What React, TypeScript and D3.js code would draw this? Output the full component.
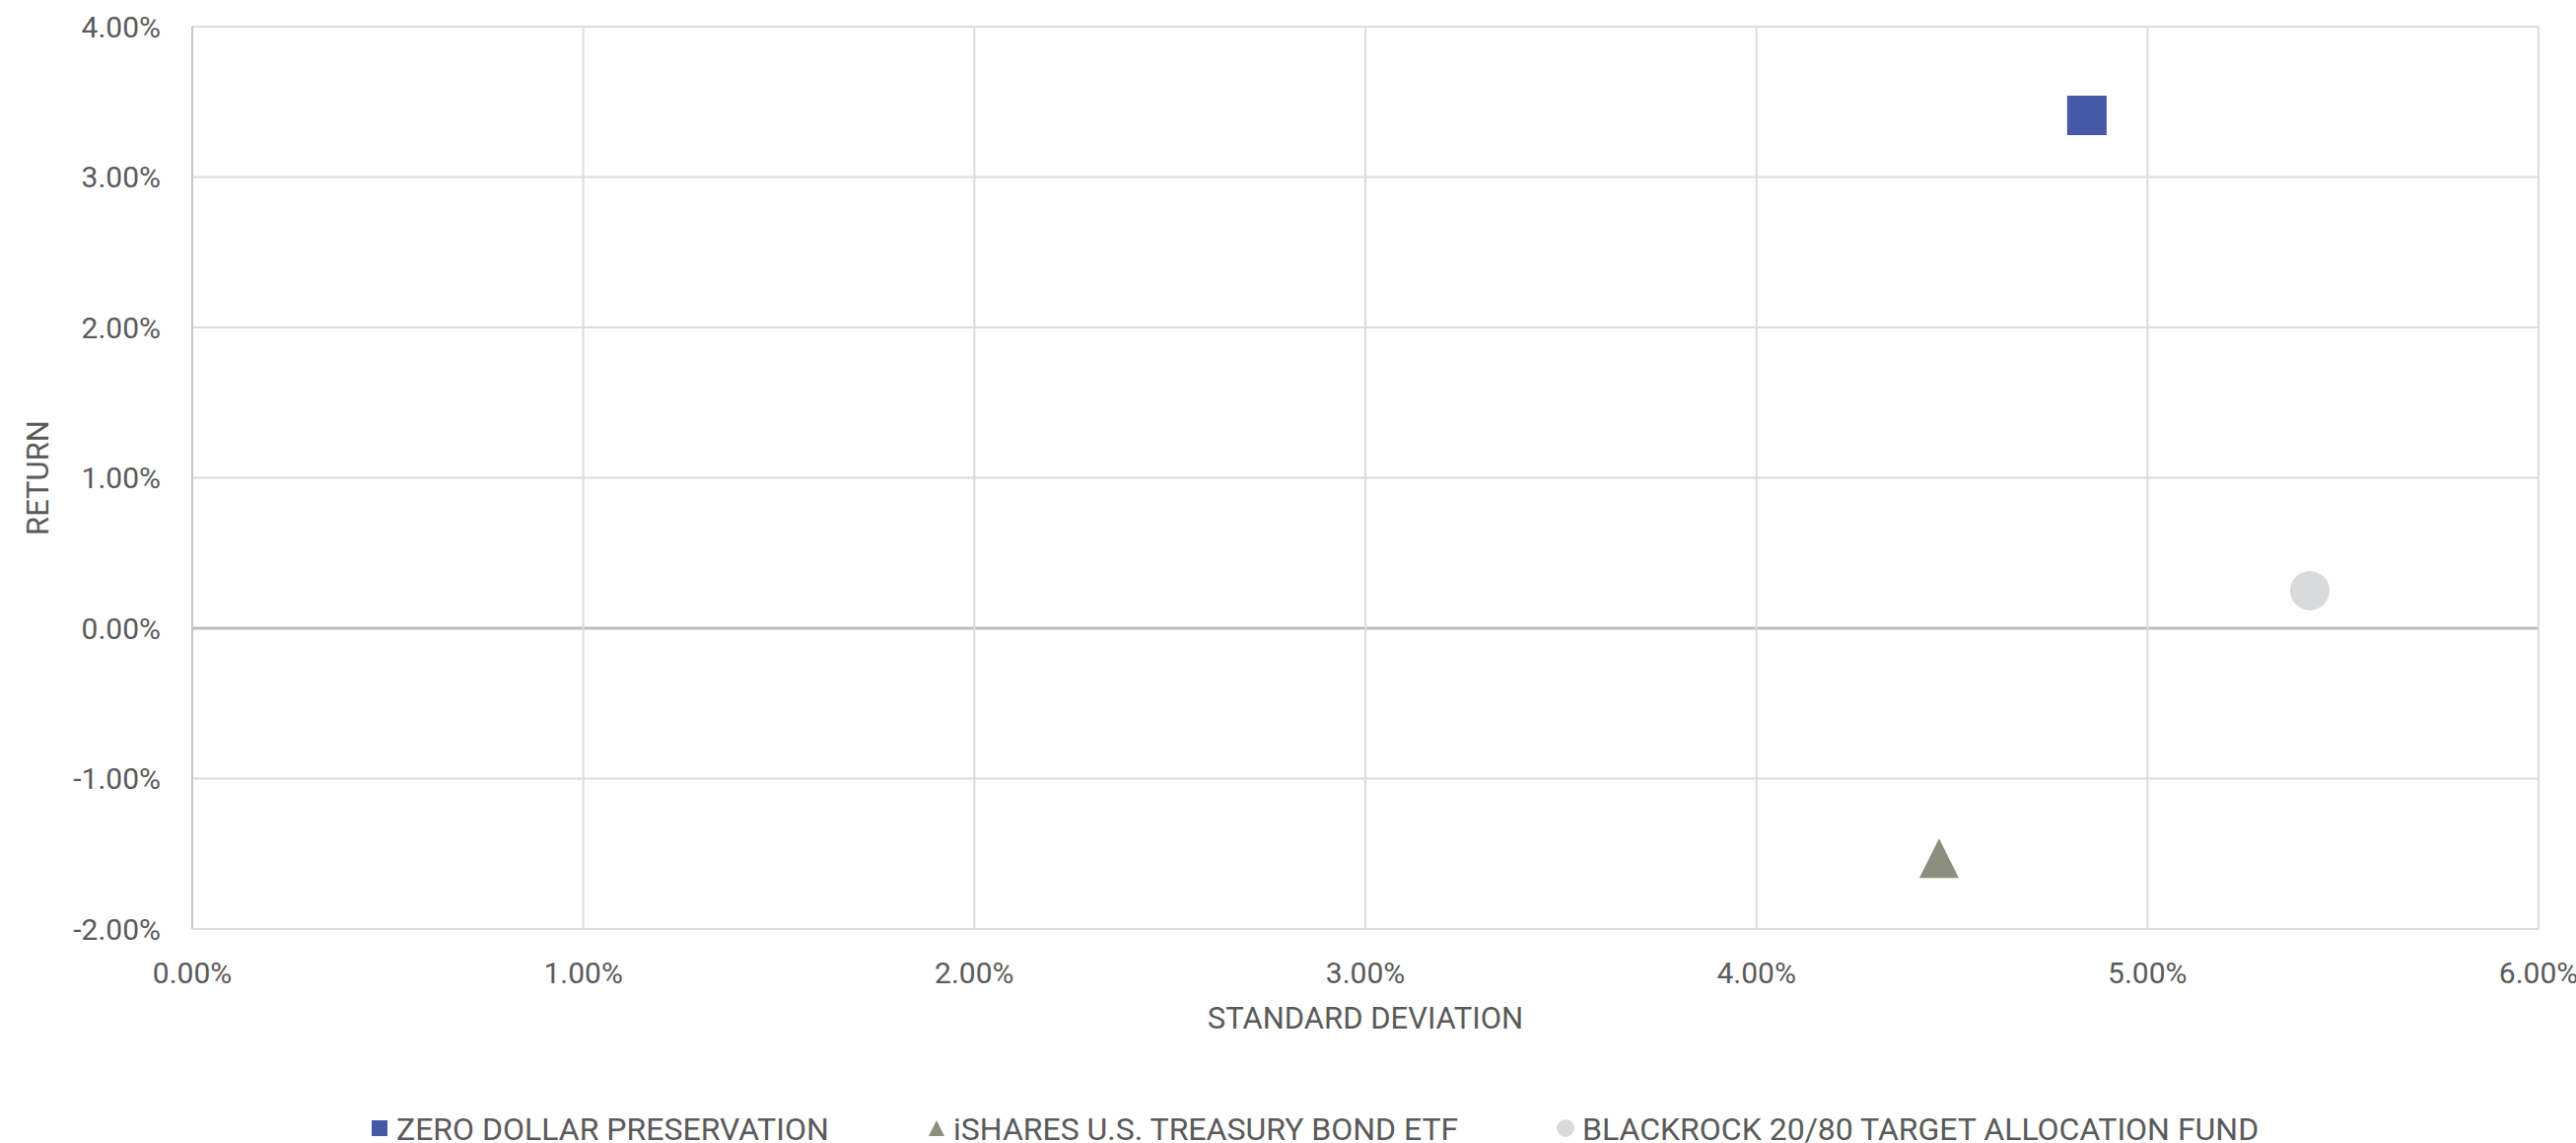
import * as d3 from "d3";

const seriesNames = ["ZERO DOLLAR PRESERVATION", "iSHARES U.S. TREASURY BOND ETF", "BLACKROCK 20/80 TARGET ALLOCATION FUND"];
const seriesColors = ["#4559a8", "#8c8e7e", "#d9dadc"];
const seriesShapes = ["square", "triangle", "circle"];
const stdDev = [4.845, 4.467, 5.415];
const returns = [3.41, -1.53, 0.25];

const xTicks = [0, 1, 2, 3, 4, 5, 6];
const yTicks = [-2, -1, 0, 1, 2, 3, 4];

const W = 2613;
const H = 1159;
const m = { left: 195, right: 38, top: 27, bottom: 217 };
const FONT = "Roboto, 'DejaVu Sans', sans-serif";
const TXT = "#5a5a5a";

function marker(shape: string, cx: number, cy: number, s: number) {
  const h = s / 2;
  if (shape === "square") return `M${cx - h},${cy - h}h${s}v${s}h${-s}Z`;
  if (shape === "triangle") return `M${cx},${cy - h}L${cx + h},${cy + h}L${cx - h},${cy + h}Z`;
  return `M${cx - h},${cy}a${h},${h} 0 1,0 ${s},0a${h},${h} 0 1,0 ${-s},0Z`;
}

export default function App() {
  const x = d3.scaleLinear().domain([0, 6]).range([m.left, W - m.right]);
  const y = d3.scaleLinear().domain([-2, 4]).range([H - m.bottom, m.top]);
  const fmt = (v: number) => v.toFixed(2) + "%";

  const legendX = [377, 942, 1580];
  const legendY = 1144;

  return (
    <svg width={W} height={H} style={{ position: "absolute", left: 0, top: 0, background: "#fff" }}>
      {/* grid */}
      {yTicks.map((t) => (
        <line key={"gy" + t} x1={x(0)} x2={x(6)} y1={y(t)} y2={y(t)}
          stroke={t === 0 ? "#bdbdbd" : "#dcdcdc"} strokeWidth={t === 0 ? 3 : 2} />
      ))}
      {xTicks.map((t) => (
        <line key={"gx" + t} x1={x(t)} x2={x(t)} y1={y(-2)} y2={y(4)}
          stroke={t === 0 ? "#c8c8c8" : "#dcdcdc"} strokeWidth={2} />
      ))}

      {/* tick labels */}
      {yTicks.map((t) => (
        <text key={"ly" + t} x={x(0) - 32} y={y(t)} dy="0.36em" textAnchor="end"
          fontFamily={FONT} fontSize={30} fill={TXT}>{fmt(t)}</text>
      ))}
      {xTicks.map((t) => (
        <text key={"lx" + t} x={x(t)} y={997} textAnchor="middle"
          fontFamily={FONT} fontSize={30} fill={TXT}>{fmt(t)}</text>
      ))}

      {/* axis titles */}
      <text x={(x(0) + x(6)) / 2} y={1043} textAnchor="middle" fontFamily={FONT} fontSize={31} fill={TXT}>
        STANDARD DEVIATION
      </text>
      <text transform={`translate(49,${(y(-2) + y(4)) / 2}) rotate(-90)`} textAnchor="middle"
        fontFamily={FONT} fontSize={31} fill={TXT}>RETURN</text>

      {/* points */}
      {seriesNames.map((n, i) => (
        <path key={n} d={marker(seriesShapes[i], x(stdDev[i]), y(returns[i]), 40)} fill={seriesColors[i]} />
      ))}

      {/* legend */}
      {seriesNames.map((n, i) => (
        <g key={"lg" + n}>
          <path d={marker(seriesShapes[i], legendX[i] + 8, legendY, seriesShapes[i] === "circle" ? 18 : 16)} fill={seriesColors[i]} />
          <text x={legendX[i] + 25} y={legendY} dy="0.36em" fontFamily={FONT} fontSize={32} fill={TXT}>{n}</text>
        </g>
      ))}
    </svg>
  );
}
